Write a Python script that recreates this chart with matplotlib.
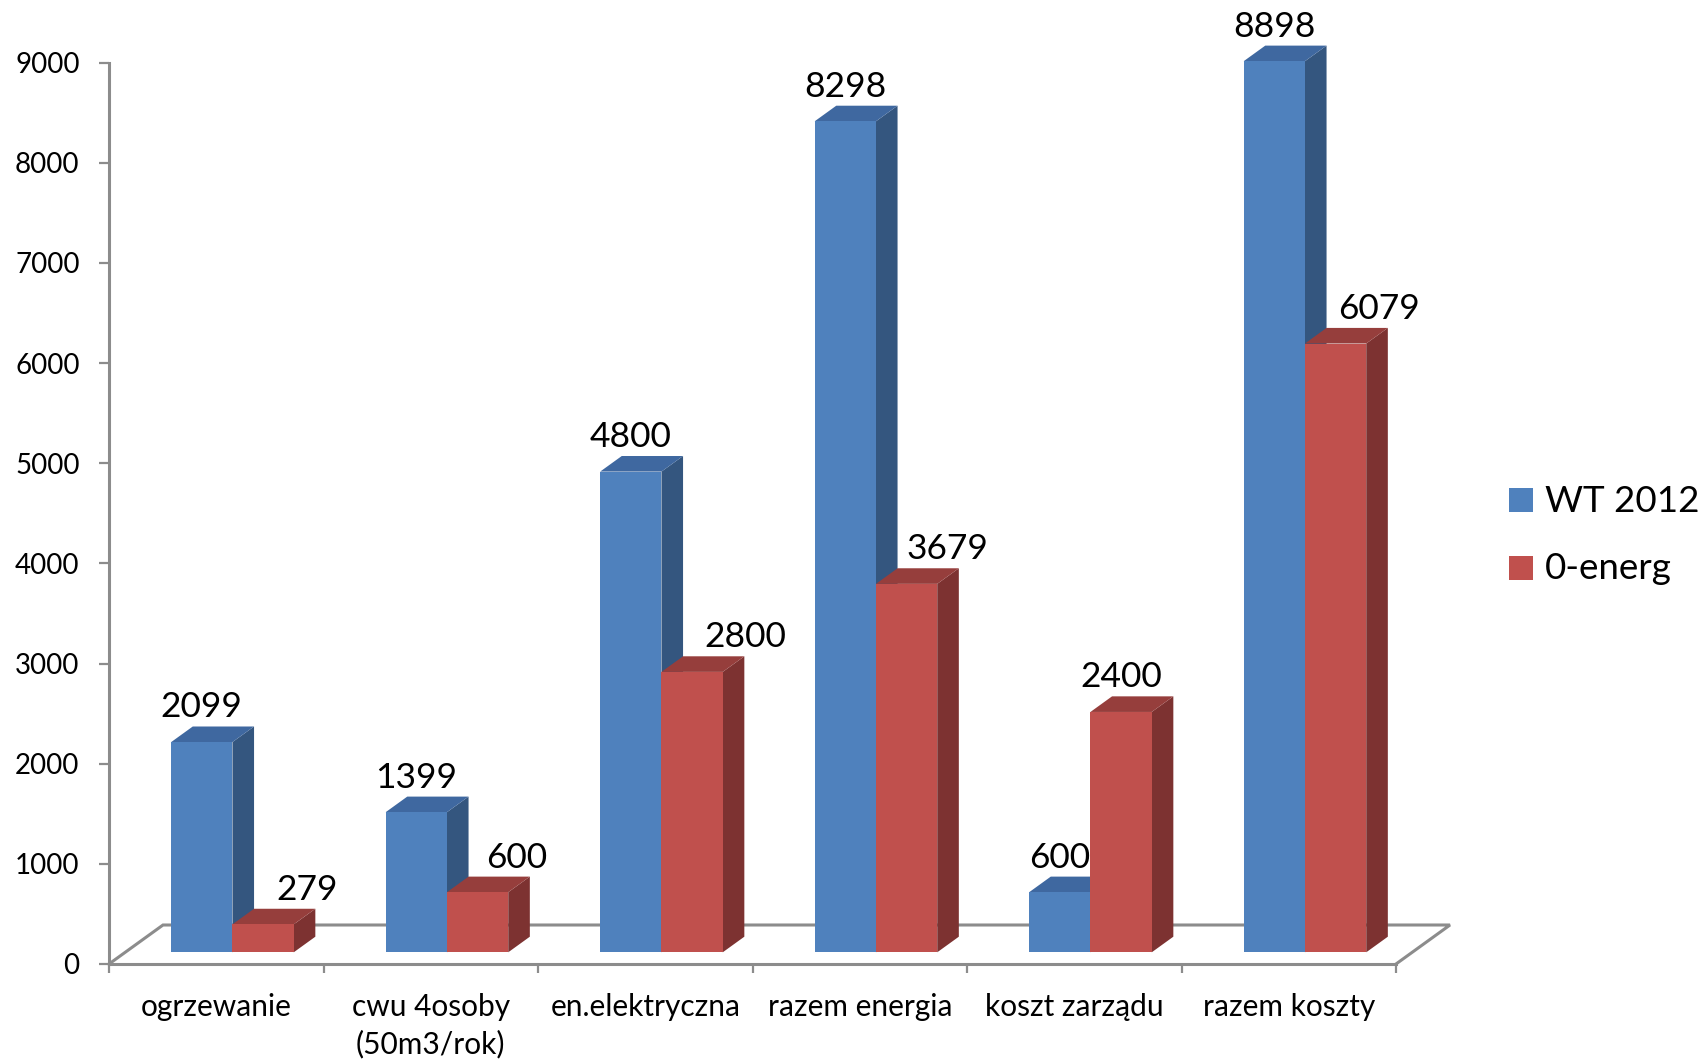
import matplotlib
matplotlib.use("Agg")
import matplotlib.pyplot as plt
from matplotlib.patches import Polygon, Rectangle

plt.rcParams['font.family'] = ['Lato', 'DejaVu Sans']

# ---- data ----
categories = ["ogrzewanie", "cwu 4osoby\n(50m3/rok)", "en.elektryczna",
              "razem energia", "koszt zarządu", "razem koszty"]
series_names = ["WT 2012", "0-energ"]
wt2012 = [2099, 1399, 4800, 8298, 600, 8898]
zero_energ = [279, 600, 2800, 3679, 2400, 6079]
y_ticks = [0, 1000, 2000, 3000, 4000, 5000, 6000, 7000, 8000, 9000]

# ---- styling ----
front_colors = ["#4F81BD", "#C0504D"]
top_colors = ["#3F68A0", "#963E3C"]
side_colors = ["#34567F", "#7D3231"]
grid_gray = "#8C8C8C"
# horizontal shift (px) of the red value labels so they clear the blue bars
red_label_shift_px = [44, 39, 53, 41, 0, 43]

W, H, DPI = 1704, 1062, 100
fig = plt.figure(figsize=(W / DPI, H / DPI), dpi=DPI)

ax_left, ax_right, ax_top, ax_bottom = 109, 1396, 62.7, 964
ax = fig.add_axes([ax_left / W, 1 - ax_bottom / H,
                   (ax_right - ax_left) / W, (ax_bottom - ax_top) / H])
n = len(categories)
ymax = 9000
ax.set_xlim(0, n)
ax.set_ylim(0, ymax)

px_per_cat = (ax_right - ax_left) / n
px_per_unit = (ax_bottom - ax_top) / ymax

# depth vector of the floor (pixels -> data units)
depth_px = (54.0, 39.0)
Dx = depth_px[0] / px_per_cat
Dy = depth_px[1] / px_per_unit
bar_w = 1 / 3.5          # gap width 150 %
f_front, f_back = 0.3, 0.7

# floor outline
ax.plot([0, Dx, n + Dx, n], [0, Dy, Dy, 0], color=grid_gray, lw=2.2,
        clip_on=False, zorder=1, solid_joinstyle='miter')

def draw_bar(x0, v, s):
    xf = x0 + f_front * Dx
    yb = f_front * Dy
    yt = yb + v
    ddx = (f_back - f_front) * Dx
    ddy = (f_back - f_front) * Dy
    front = Rectangle((xf, yb), bar_w, v, facecolor=front_colors[s],
                      edgecolor='none', clip_on=False, zorder=3)
    top = Polygon([(xf, yt), (xf + bar_w, yt), (xf + bar_w + ddx, yt + ddy),
                   (xf + ddx, yt + ddy)], closed=True, facecolor=top_colors[s],
                  edgecolor='none', clip_on=False, zorder=3)
    side = Polygon([(xf + bar_w, yb), (xf + bar_w + ddx, yb + ddy),
                    (xf + bar_w + ddx, yt + ddy), (xf + bar_w, yt)], closed=True,
                   facecolor=side_colors[s], edgecolor='none', clip_on=False, zorder=3)
    for p in (side, top, front):
        ax.add_patch(p)
    return xf + bar_w / 2, yt + ddy

for i in range(n):
    for s, vals in enumerate([wt2012, zero_energ]):
        x0 = i + (1 - 2 * bar_w) / 2 + s * bar_w
        cx, ytop = draw_bar(x0, vals[i], s)
        shift = red_label_shift_px[i] if s == 1 else 0
        ax.annotate(f"{vals[i]}", xy=(cx, ytop),
                    xytext=(shift * 72 / DPI, 9 * 72 / DPI), textcoords='offset points',
                    ha='center', va='baseline', fontsize=25.5, color='black',
                    annotation_clip=False, zorder=5)

# axes
for sp in ('top', 'right'):
    ax.spines[sp].set_visible(False)
for sp in ('left', 'bottom'):
    ax.spines[sp].set_color(grid_gray)
    ax.spines[sp].set_linewidth(2.2)
ax.set_yticks(y_ticks)
ax.set_yticklabels([str(t) for t in y_ticks])
ax.tick_params(axis='y', direction='out', length=7.2, width=1.6, color=grid_gray,
               pad=14, labelsize=20, labelcolor='black')
ax.set_xticks(range(n + 1))
ax.set_xticklabels([])
ax.tick_params(axis='x', which='major', direction='out', length=6.5, width=1.6,
               color=grid_gray)
ax.set_xticks([i + 0.5 for i in range(n)], minor=True)
ax.set_xticklabels(categories, minor=True)
ax.tick_params(axis='x', which='minor', length=0, pad=21, labelsize=21.5,
               labelcolor='black')
for lab in ax.get_xticklabels(minor=True):
    lab.set_linespacing(1.38)

# legend
leg_x, sq = 1509, 23.5
leg_rows = [(488, 511.7), (556, 579)]
for s, (ytop_px, base_px) in enumerate(leg_rows):
    fig.patches.append(Rectangle((leg_x / W, 1 - (ytop_px + sq) / H), sq / W, sq / H,
                                 transform=fig.transFigure, facecolor=front_colors[s],
                                 edgecolor='none'))
    fig.text(1545 / W, 1 - base_px / H, series_names[s], fontsize=26.5,
             va='baseline', ha='left', color='black')

fig.savefig("out.png", dpi=DPI)
